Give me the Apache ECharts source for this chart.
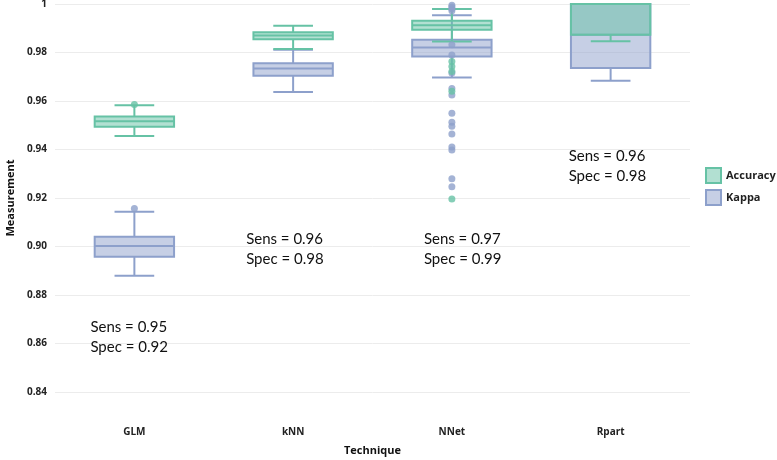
<!DOCTYPE html>
<html>
<head>
<meta charset="utf-8">
<script src="https://cdn.jsdelivr.net/npm/echarts@6/dist/echarts.min.js"></script>
<style>html,body{margin:0;padding:0;background:#fff}#c{width:777px;height:460px}</style>
</head>
<body>
<div id="c"></div>
<script>
var techniques = ['GLM', 'kNN', 'NNet', 'Rpart'];
var seriesNames = ['Accuracy', 'Kappa'];
// [lower whisker, Q1, median, Q3, upper whisker]
var accuracyBoxes = [
  [0.9456, 0.9494, 0.9516, 0.9536, 0.9582],
  [0.9814, 0.9855, 0.9870, 0.9883, 0.9910],
  [0.9845, 0.9894, 0.9912, 0.9931, 0.9979],
  [0.9846, 0.9873, 1.0000, 1.0000, 1.0000]
];
var kappaBoxes = [
  [0.8879, 0.8958, 0.9002, 0.9040, 0.9143],
  [0.9637, 0.9704, 0.9734, 0.9756, 0.9811],
  [0.9697, 0.9784, 0.9821, 0.9853, 0.9954],
  [0.9683, 0.9736, 0.9873, 1.0000, 1.0000]
];
var accuracyOutliers = [
  ['GLM', 0.9586],
  ['NNet', 0.9763], ['NNet', 0.9742], ['NNet', 0.9722], ['NNet', 0.9640], ['NNet', 0.9196]
];
var kappaOutliers = [
  ['GLM', 0.9157],
  ['NNet', 0.9995], ['NNet', 0.9988], ['NNet', 0.9980], ['NNet', 0.9972],
  ['NNet', 0.9832], ['NNet', 0.9790], ['NNet', 0.9715], ['NNet', 0.9652], ['NNet', 0.9625],
  ['NNet', 0.9550], ['NNet', 0.9512], ['NNet', 0.9496], ['NNet', 0.9464],
  ['NNet', 0.9410], ['NNet', 0.9398], ['NNet', 0.9279], ['NNet', 0.9246]
];
var annotations = [
  ['Sens = 0.95', 'Spec = 0.92'],
  ['Sens = 0.96', 'Spec = 0.98'],
  ['Sens = 0.97', 'Spec = 0.99'],
  ['Sens = 0.96', 'Spec = 0.98']
];
var annotationValues = [0.8625, 0.8990, 0.8990, 0.9330];
var yTicks = { min: 0.84, max: 1.0, interval: 0.02 };

// layout-only: horizontal pixel offsets of the annotation text from category centre
var annoOffsets = [-44, -47, -28, -42];

var accLine = '#66c2a5', accFill = 'rgba(102,194,165,0.5)';
var kapLine = '#8da0cb', kapFill = 'rgba(141,160,203,0.5)';

function boxRows(boxes) {
  return boxes.map(function (b, i) { return [i].concat(b); });
}
function makeRender(line, fill) {
  return function (params, api) {
    var idx = api.value(0);
    var yMin = api.coord([idx, api.value(1)]);
    var x = yMin[0];
    var y0 = yMin[1];
    var y1 = api.coord([idx, api.value(2)])[1];
    var y2 = api.coord([idx, api.value(3)])[1];
    var y3 = api.coord([idx, api.value(4)])[1];
    var y4 = api.coord([idx, api.value(5)])[1];
    var band = api.size([1, 0])[0];
    var hw = band * 0.25;
    var cw = hw * 0.5;
    var ls = { stroke: line, lineWidth: 2 };
    return {
      type: 'group',
      children: [
        { type: 'line', shape: { x1: x, y1: y3, x2: x, y2: y4 }, style: ls },
        { type: 'line', shape: { x1: x, y1: y1, x2: x, y2: y0 }, style: ls },
        { type: 'line', shape: { x1: x - cw, y1: y4, x2: x + cw, y2: y4 }, style: ls },
        { type: 'line', shape: { x1: x - cw, y1: y0, x2: x + cw, y2: y0 }, style: ls },
        { type: 'rect', shape: { x: x - hw, y: y3, width: 2 * hw, height: y1 - y3 },
          style: { fill: fill, stroke: line, lineWidth: 2 } },
        { type: 'line', shape: { x1: x - hw, y1: y2, x2: x + hw, y2: y2 }, style: ls }
      ]
    };
  };
}

var chart = echarts.init(document.getElementById('c'), null, { renderer: 'canvas' });
var option = {
  backgroundColor: '#fff',
  animation: false,
  grid: { left: 55, right: 87, top: 4, bottom: 68, outerBoundsMode: 'none', containLabel: false },
  legend: {
    orient: 'vertical', left: 700, top: 162, itemWidth: 15, itemHeight: 15, itemGap: 5,
    icon: 'rect', data: [
      { name: 'Accuracy', itemStyle: { color: accFill, borderColor: accLine, borderWidth: 2 } },
      { name: 'Kappa', itemStyle: { color: kapFill, borderColor: kapLine, borderWidth: 2 } }
    ],
    textStyle: { fontSize: 11, fontWeight: 'bold', color: '#222', fontFamily: 'Open Sans' }
  },
  xAxis: {
    type: 'category', data: techniques,
    axisLine: { show: false }, axisTick: { show: false },
    axisLabel: { margin: 35, fontSize: 10, fontWeight: 'bold', color: '#222', fontFamily: 'Open Sans' },
    name: 'Technique', nameLocation: 'middle', nameGap: 53,
    nameTextStyle: { fontSize: 11, fontWeight: 'bold', color: '#111', fontFamily: 'Open Sans' }
  },
  yAxis: {
    type: 'value', min: yTicks.min, max: yTicks.max, interval: yTicks.interval,
    axisLine: { show: false }, axisTick: { show: false },
    splitLine: { lineStyle: { color: '#ececec', width: 1 } },
    axisLabel: {
      margin: 8, fontSize: 10, fontWeight: 'bold', color: '#222', fontFamily: 'Open Sans',
      formatter: function (v) { return Math.abs(v - 1) < 1e-9 ? '1' : v.toFixed(2); }
    },
    name: 'Measurement', nameLocation: 'middle', nameGap: 39,
    nameTextStyle: { fontSize: 11, fontWeight: 'bold', color: '#111', fontFamily: 'Open Sans' }
  },
  series: [
    {
      name: seriesNames[1], type: 'custom', data: boxRows(kappaBoxes),
      encode: { x: 0, y: [1, 2, 3, 4, 5] },
      renderItem: makeRender(kapLine, kapFill),
      itemStyle: { color: kapFill, borderColor: kapLine }, clip: false, z: 2
    },
    {
      name: seriesNames[0], type: 'custom', data: boxRows(accuracyBoxes),
      encode: { x: 0, y: [1, 2, 3, 4, 5] },
      renderItem: makeRender(accLine, accFill),
      itemStyle: { color: accFill, borderColor: accLine }, clip: false, z: 3
    },
    {
      name: seriesNames[1], type: 'scatter', data: kappaOutliers,
      symbolSize: 7, itemStyle: { color: kapLine }, z: 5
    },
    {
      name: seriesNames[0], type: 'scatter', data: accuracyOutliers,
      symbolSize: 7, itemStyle: { color: accLine }, z: 5
    }
  ]
};
chart.setOption(option);

var g = [];
techniques.forEach(function (t, i) {
  var p = chart.convertToPixel({ xAxisIndex: 0, yAxisIndex: 0 }, [t, annotationValues[i]]);
  g.push({
    type: 'text', left: p[0] + annoOffsets[i], top: p[1] - 20,
    style: { text: annotations[i].join('\n'), fontSize: 15, lineHeight: 20, fill: '#111', fontFamily: 'Lato' }
  });
});
chart.setOption({ graphic: g });
</script>
</body>
</html>
